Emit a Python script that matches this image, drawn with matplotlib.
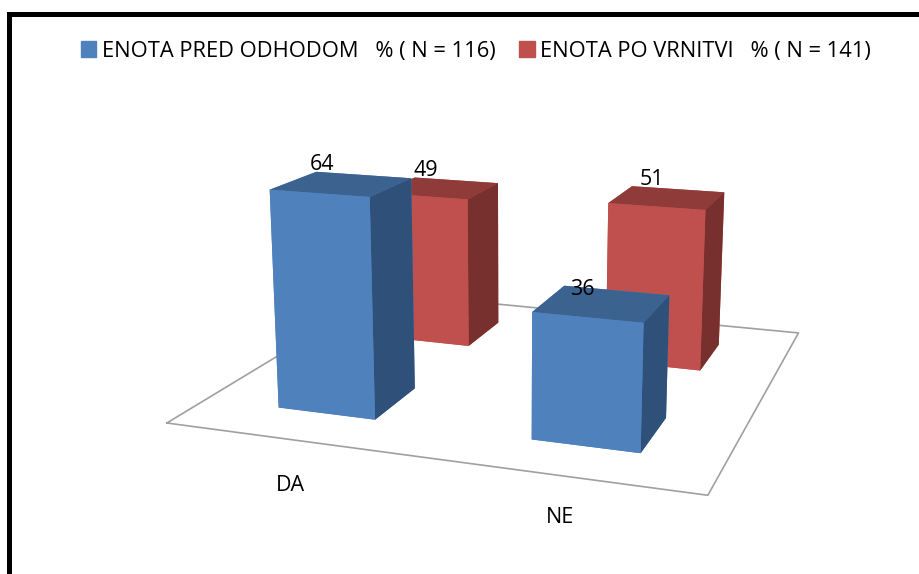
import matplotlib
matplotlib.use("Agg")
import matplotlib.pyplot as plt
from matplotlib.patches import Patch, Rectangle

categories = ["DA", "NE"]
before_values = [64, 36]
after_values = [49, 51]
before_label = "ENOTA PRED ODHODOM   % ( N = 116)"
after_label = "ENOTA PO VRNITVI   % ( N = 141)"

BLUE = ["#4F81BD", "#3C6390", "#2F5079"]   # front, top, side
RED = ["#C0504D", "#8F3B39", "#78302E"]
BAR_W = 0.3965
BAR_D = 0.3914
X_CENTERS = [0.5038, 1.5065]
Y_BEFORE = 0.4938
Y_AFTER = 1.5026
FONT = "Open Sans"

W, H = 920, 574
fig = plt.figure(figsize=(W / 100, H / 100), dpi=100)

# outer frame, cut off by the right and bottom edge of the picture
fig.add_artist(Rectangle((9.5 / W, -0.2), 1.2, 1.2 - 13.5 / H, transform=fig.transFigure,
                         fill=False, ec="black", lw=3.6))

# values below come from a least squares fit of the camera to the picture
ax = fig.add_axes([144.6 / W, 1 - 631.2 / H, 715.35 / W, 715.35 / H], projection="3d")
ax.computed_zorder = False
ax.set_xlim(0, 2)
ax.set_ylim(0, 2)
ax.set_zlim(0, 70)
ax.view_init(elev=14.1882, azim=-70.6491)
ax.set_proj_type("persp", focal_length=0.3804)
ax.set_box_aspect((2.1944, 2.0848, 1.0))
ax.set_axis_off()

# floor
ax.plot([0, 2, 2, 0, 0], [0, 0, 2, 2, 0], [0, 0, 0, 0, 0], color="#A0A0A0", lw=1.2, zorder=1)


def draw_bar(xc, yc, height, colors, z):
    front, top, side = colors
    # bar3d face order: bottom, top, front, back, left, right
    ax.bar3d(xc - BAR_W / 2, yc - BAR_D / 2, 0, BAR_W, BAR_D, height, shade=False,
             color=[front, top, front, front, front, side], edgecolor="none", zorder=z)


z = 2
for xc, val in zip(X_CENTERS, after_values):
    draw_bar(xc, Y_AFTER, val, RED, z)
    z += 1
for xc, val in zip(X_CENTERS, before_values):
    draw_bar(xc, Y_BEFORE, val, BLUE, z)
    z += 1

# value labels sit on the top face of each bar
for xc, val in zip(X_CENTERS, after_values):
    ax.text(xc - 0.065, Y_AFTER, val + 5.5, str(val), fontsize=15.5, family=FONT, ha="center", va="center", zorder=20)
for xc, val, dx, dz in zip(X_CENTERS, before_values, [-0.125, -0.1], [3.6, 1.3]):
    ax.text(xc + dx, Y_BEFORE + 0.1, val + dz, str(val), fontsize=15.5, family=FONT, ha="center", va="center", zorder=20)

for xc, name, dx, dz in zip(X_CENTERS, categories, [0.12, 0.07], [-5, -3]):
    ax.text(xc + dx, -0.25, dz, name, fontsize=15.5, family=FONT, ha="center", va="center", zorder=20)

handles = [Patch(color=BLUE[0], label=before_label), Patch(color=RED[0], label=after_label)]
fig.legend(handles=handles, loc="center", bbox_to_anchor=(476 / W, 1 - 51 / H), ncol=2, frameon=False,
           prop={"family": FONT, "size": 15.75}, handlelength=0.7, handleheight=0.7, handletextpad=0.25,
           columnspacing=1.1, borderpad=0, borderaxespad=0)

fig.savefig("out.png", dpi=100)
